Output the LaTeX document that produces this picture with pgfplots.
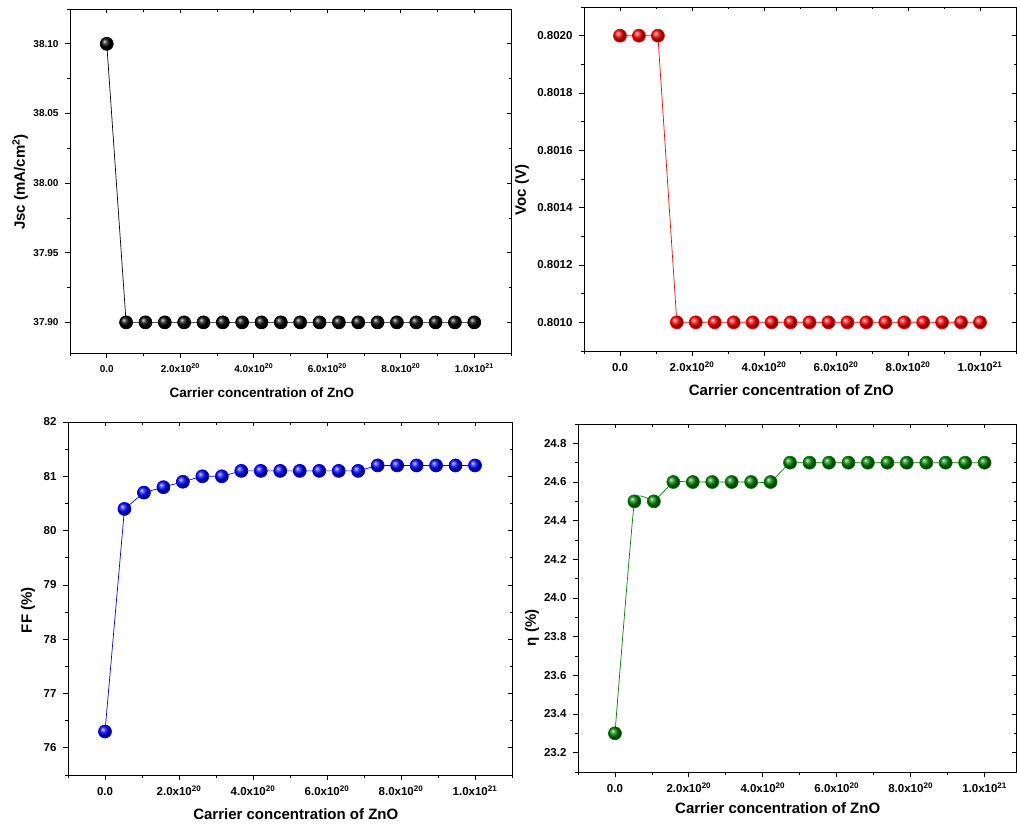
\documentclass[border=0pt]{standalone}
\usepackage{pgfplots}
\pgfplotsset{compat=1.18}
\usepackage{fontspec}
\setmainfont{Liberation Sans}
\definecolor{dgreen}{RGB}{0,128,0}
\pgfplotsset{
  common/.style={
    scale only axis,
    xmin=-1, xmax=11,
    xtick={0,2,4,6,8,10},
    minor xtick={-1,1,3,5,7,9,11},
    axis line style={line width=0.9pt},
    every tick/.style={black, line width=0.8pt},
    clip=false,
  },
  main/.style={
    common,
    tick align=outside,
    xtick pos=left, ytick pos=left,
    major tick length=5pt, minor tick length=3pt,
    ticklabel style={font=\bfseries\fontsize{11.5}{13}\selectfont},
    xticklabel style={text height=10pt, text depth=0pt, yshift=-2pt},
    yticklabel style={xshift=-3pt},
    /pgf/number format/assume math mode=true,
    xticklabels={0.0, 2.0x10\textsuperscript{20}, 4.0x10\textsuperscript{20}, 6.0x10\textsuperscript{20}, 8.0x10\textsuperscript{20}, 1.0x10\textsuperscript{21}},
    label style={font=\bfseries\fontsize{15}{18}\selectfont},
    xlabel={Carrier concentration of ZnO},
  },
  mirror/.style={
    common,
    tick align=inside,
    xtick pos=right, ytick pos=right,
    major tick length=4pt, minor tick length=2.5pt,
    xticklabels={}, yticklabels={},
  },
  p1/.style={width=441pt, height=344pt, at={(70pt,-353pt)}, anchor=south west,
    ymin=37.878, ymax=38.125, ytick={37.90,37.95,38.00,38.05,38.10},
    minor ytick={37.875,37.925,37.975,38.025,38.075,38.125}},
  p2/.style={width=432pt, height=344pt, at={(584pt,-351pt)}, anchor=south west,
    ymin=0.80090, ymax=0.80210, ytick={0.8010,0.8012,0.8014,0.8016,0.8018,0.8020},
    minor ytick={0.8009,0.8011,0.8013,0.8015,0.8017,0.8019,0.8021}},
  p3/.style={width=444pt, height=353pt, at={(68pt,-775pt)}, anchor=south west,
    ymin=75.5, ymax=82, ytick={76,77,78,79,80,81,82},
    minor ytick={75.5,76.5,77.5,78.5,79.5,80.5,81.5}},
  p4/.style={width=438pt, height=348pt, at={(578pt,-772pt)}, anchor=south west,
    xmax=10.85,
    ymin=23.1, ymax=24.9, ytick={23.2,23.4,23.6,23.8,24.0,24.2,24.4,24.6,24.8},
    minor ytick={23.1,23.3,23.5,23.7,23.9,24.1,24.3,24.5,24.7,24.9}},
}
\begin{document}
\begin{tikzpicture}
\path[use as bounding box] (0pt,0pt) rectangle (1017pt,-825pt);
% Panel 1: Jsc
\begin{axis}[main, p1,
  ticklabel style={font=\bfseries\fontsize{10}{12}\selectfont},
  xticklabel style={text height=9pt},
  yticklabel style={/pgf/number format/.cd, fixed, fixed zerofill, precision=2},
  ylabel={Jsc (mA/cm\textsuperscript{2})},
  xlabel style={font=\bfseries\fontsize{13.5}{16}\selectfont, at={(axis description cs:0.435,-0.116)}, anchor=center},
  ylabel style={at={(axis description cs:-0.113,0.497)}, anchor=center},
]
\addplot[black, line width=0.7pt, mark=ball, mark size=6.5pt, mark options={ball color=black}] coordinates {
(0,38.10) (0.5263,37.90) (1.0526,37.90) (1.5789,37.90) (2.1053,37.90) (2.6316,37.90) (3.1579,37.90) (3.6842,37.90) (4.2105,37.90) (4.7368,37.90) (5.2632,37.90) (5.7895,37.90) (6.3158,37.90) (6.8421,37.90) (7.3684,37.90) (7.8947,37.90) (8.4211,37.90) (8.9474,37.90) (9.4737,37.90) (10,37.90)};
\end{axis}
\begin{axis}[mirror, p1]\end{axis}
% Panel 2: Voc
\begin{axis}[main, p2,
  yticklabel style={/pgf/number format/.cd, fixed, fixed zerofill, precision=4},
  ylabel={Voc (V)},
  xlabel style={at={(axis description cs:0.48,-0.113)}, anchor=center},
  ylabel style={at={(axis description cs:-0.1435,0.468)}, anchor=center},
]
\addplot[red, line width=0.7pt, mark=ball, mark size=6.5pt, mark options={ball color=red}] coordinates {
(0,0.8020) (0.5263,0.8020) (1.0526,0.8020) (1.5789,0.8010) (2.1053,0.8010) (2.6316,0.8010) (3.1579,0.8010) (3.6842,0.8010) (4.2105,0.8010) (4.7368,0.8010) (5.2632,0.8010) (5.7895,0.8010) (6.3158,0.8010) (6.8421,0.8010) (7.3684,0.8010) (7.8947,0.8010) (8.4211,0.8010) (8.9474,0.8010) (9.4737,0.8010) (10,0.8010)};
\end{axis}
\begin{axis}[mirror, p2]\end{axis}
% Panel 3: FF
\begin{axis}[main, p3,
  ylabel={FF (\%)},
  xlabel style={at={(axis description cs:0.513,-0.11)}, anchor=center},
  ylabel style={at={(axis description cs:-0.09,0.467)}, anchor=center},
]
\addplot[blue, line width=0.7pt, mark=ball, mark size=6.5pt, mark options={ball color=blue}] coordinates {
(0,76.3) (0.5263,80.4) (1.0526,80.7) (1.5789,80.8) (2.1053,80.9) (2.6316,81.0) (3.1579,81.0) (3.6842,81.1) (4.2105,81.1) (4.7368,81.1) (5.2632,81.1) (5.7895,81.1) (6.3158,81.1) (6.8421,81.1) (7.3684,81.2) (7.8947,81.2) (8.4211,81.2) (8.9474,81.2) (9.4737,81.2) (10,81.2)};
\end{axis}
\begin{axis}[mirror, p3]\end{axis}
% Panel 4: eta
\begin{axis}[main, p4,
  yticklabel style={/pgf/number format/.cd, fixed, fixed zerofill, precision=1},
  ylabel={η (\%)},
  xlabel style={at={(axis description cs:0.456,-0.103)}, anchor=center},
  ylabel style={at={(axis description cs:-0.105,0.414)}, anchor=center},
]
\addplot[dgreen, line width=0.7pt, smooth, tension=0.2, mark=ball, mark size=6.5pt, mark options={ball color=dgreen}] coordinates {
(0,23.3) (0.5263,24.5) (1.0526,24.5) (1.5789,24.6) (2.1053,24.6) (2.6316,24.6) (3.1579,24.6) (3.6842,24.6) (4.2105,24.6) (4.7368,24.7) (5.2632,24.7) (5.7895,24.7) (6.3158,24.7) (6.8421,24.7) (7.3684,24.7) (7.8947,24.7) (8.4211,24.7) (8.9474,24.7) (9.4737,24.7) (10,24.7)};
\end{axis}
\begin{axis}[mirror, p4]\end{axis}
\end{tikzpicture}
\end{document}
